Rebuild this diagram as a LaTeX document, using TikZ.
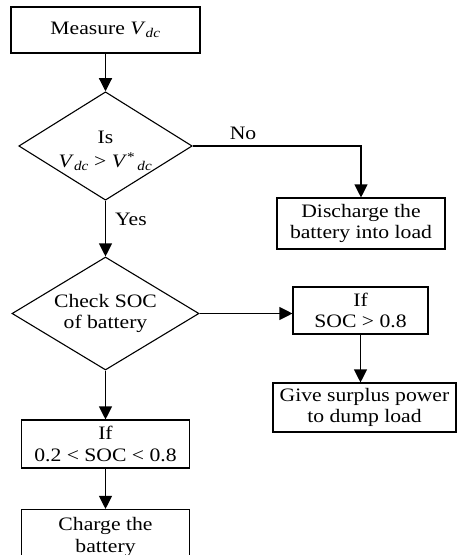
\documentclass[tikz,border=0pt]{standalone}
\usepackage{fontspec}
\setmainfont{Liberation Serif}[FakeStretch=1.14]
\usetikzlibrary{shapes.geometric,arrows.meta}
\newcommand{\myvdc}{\textit{V}\textsubscript{\textit{dc}}}
\newcommand{\myvsdc}{\textit{V}\textsuperscript{*}\textsubscript{\,\textit{dc}}}
\begin{document}
\begin{tikzpicture}[x=1pt,y=1pt,
  every node/.style={font=\fontsize{19}{21.5}\selectfont},
  boxnode/.style={draw,line width=1.1pt,rectangle,align=center,inner sep=0pt},
  decision/.style={draw,line width=1.1pt,diamond,align=center,inner sep=0pt,aspect=1.6},
  conn/.style={line width=1.1pt,-{Triangle[length=13pt,width=13pt]}},
  lbl/.style={inner sep=0pt}]
\useasboundingbox (0,0) rectangle (457,-555);
\node[boxnode,minimum width=189pt,minimum height=46pt] (measure) at (105.5,-30) {Measure \myvdc};
\node[decision,minimum width=166pt,minimum height=108pt] (isv) at (105.5,-146) {\rule{0pt}{22pt}Is\\[3pt]\myvdc\ > \myvsdc};
\node[boxnode,minimum width=168pt,minimum height=51pt] (discharge) at (361,-223.5) {Discharge the\\battery into load};
\node[decision,minimum width=187pt,minimum height=113pt] (check) at (105.5,-313.5) {Check SOC\\of battery};
\node[boxnode,minimum width=135pt,minimum height=47pt] (high) at (360.5,-310.5) {If\\SOC > 0.8};
\node[boxnode,minimum width=183pt,minimum height=49pt] (surplus) at (364.5,-407.5) {Give surplus power\\to dump load};
\node[boxnode,minimum width=168pt,minimum height=48pt] (mid) at (105.5,-444) {If\\0.2 < SOC < 0.8};
\node[boxnode,minimum width=168pt,minimum height=51pt,text depth=0pt] (charge) at (105.5,-535) {Charge the\\battery};
\coordinate (corner) at (361,-146);
\draw[conn] (measure.south) -- (isv.north);
\draw[conn] (isv.east) -- (corner) -- (discharge.north);
\node[lbl] (nolbl) at (243,-133) {No};
\draw[conn] (isv.south) -- (check.north);
\node[lbl] (yeslbl) at (131,-219) {Yes};
\draw[conn] (check.east) -- (high.west |- check.east);
\draw[conn] (high.south) -- (high.south |- surplus.north);
\draw[conn] (check.south) -- (mid.north);
\draw[conn] (mid.south) -- (charge.north);
\end{tikzpicture}
\end{document}
